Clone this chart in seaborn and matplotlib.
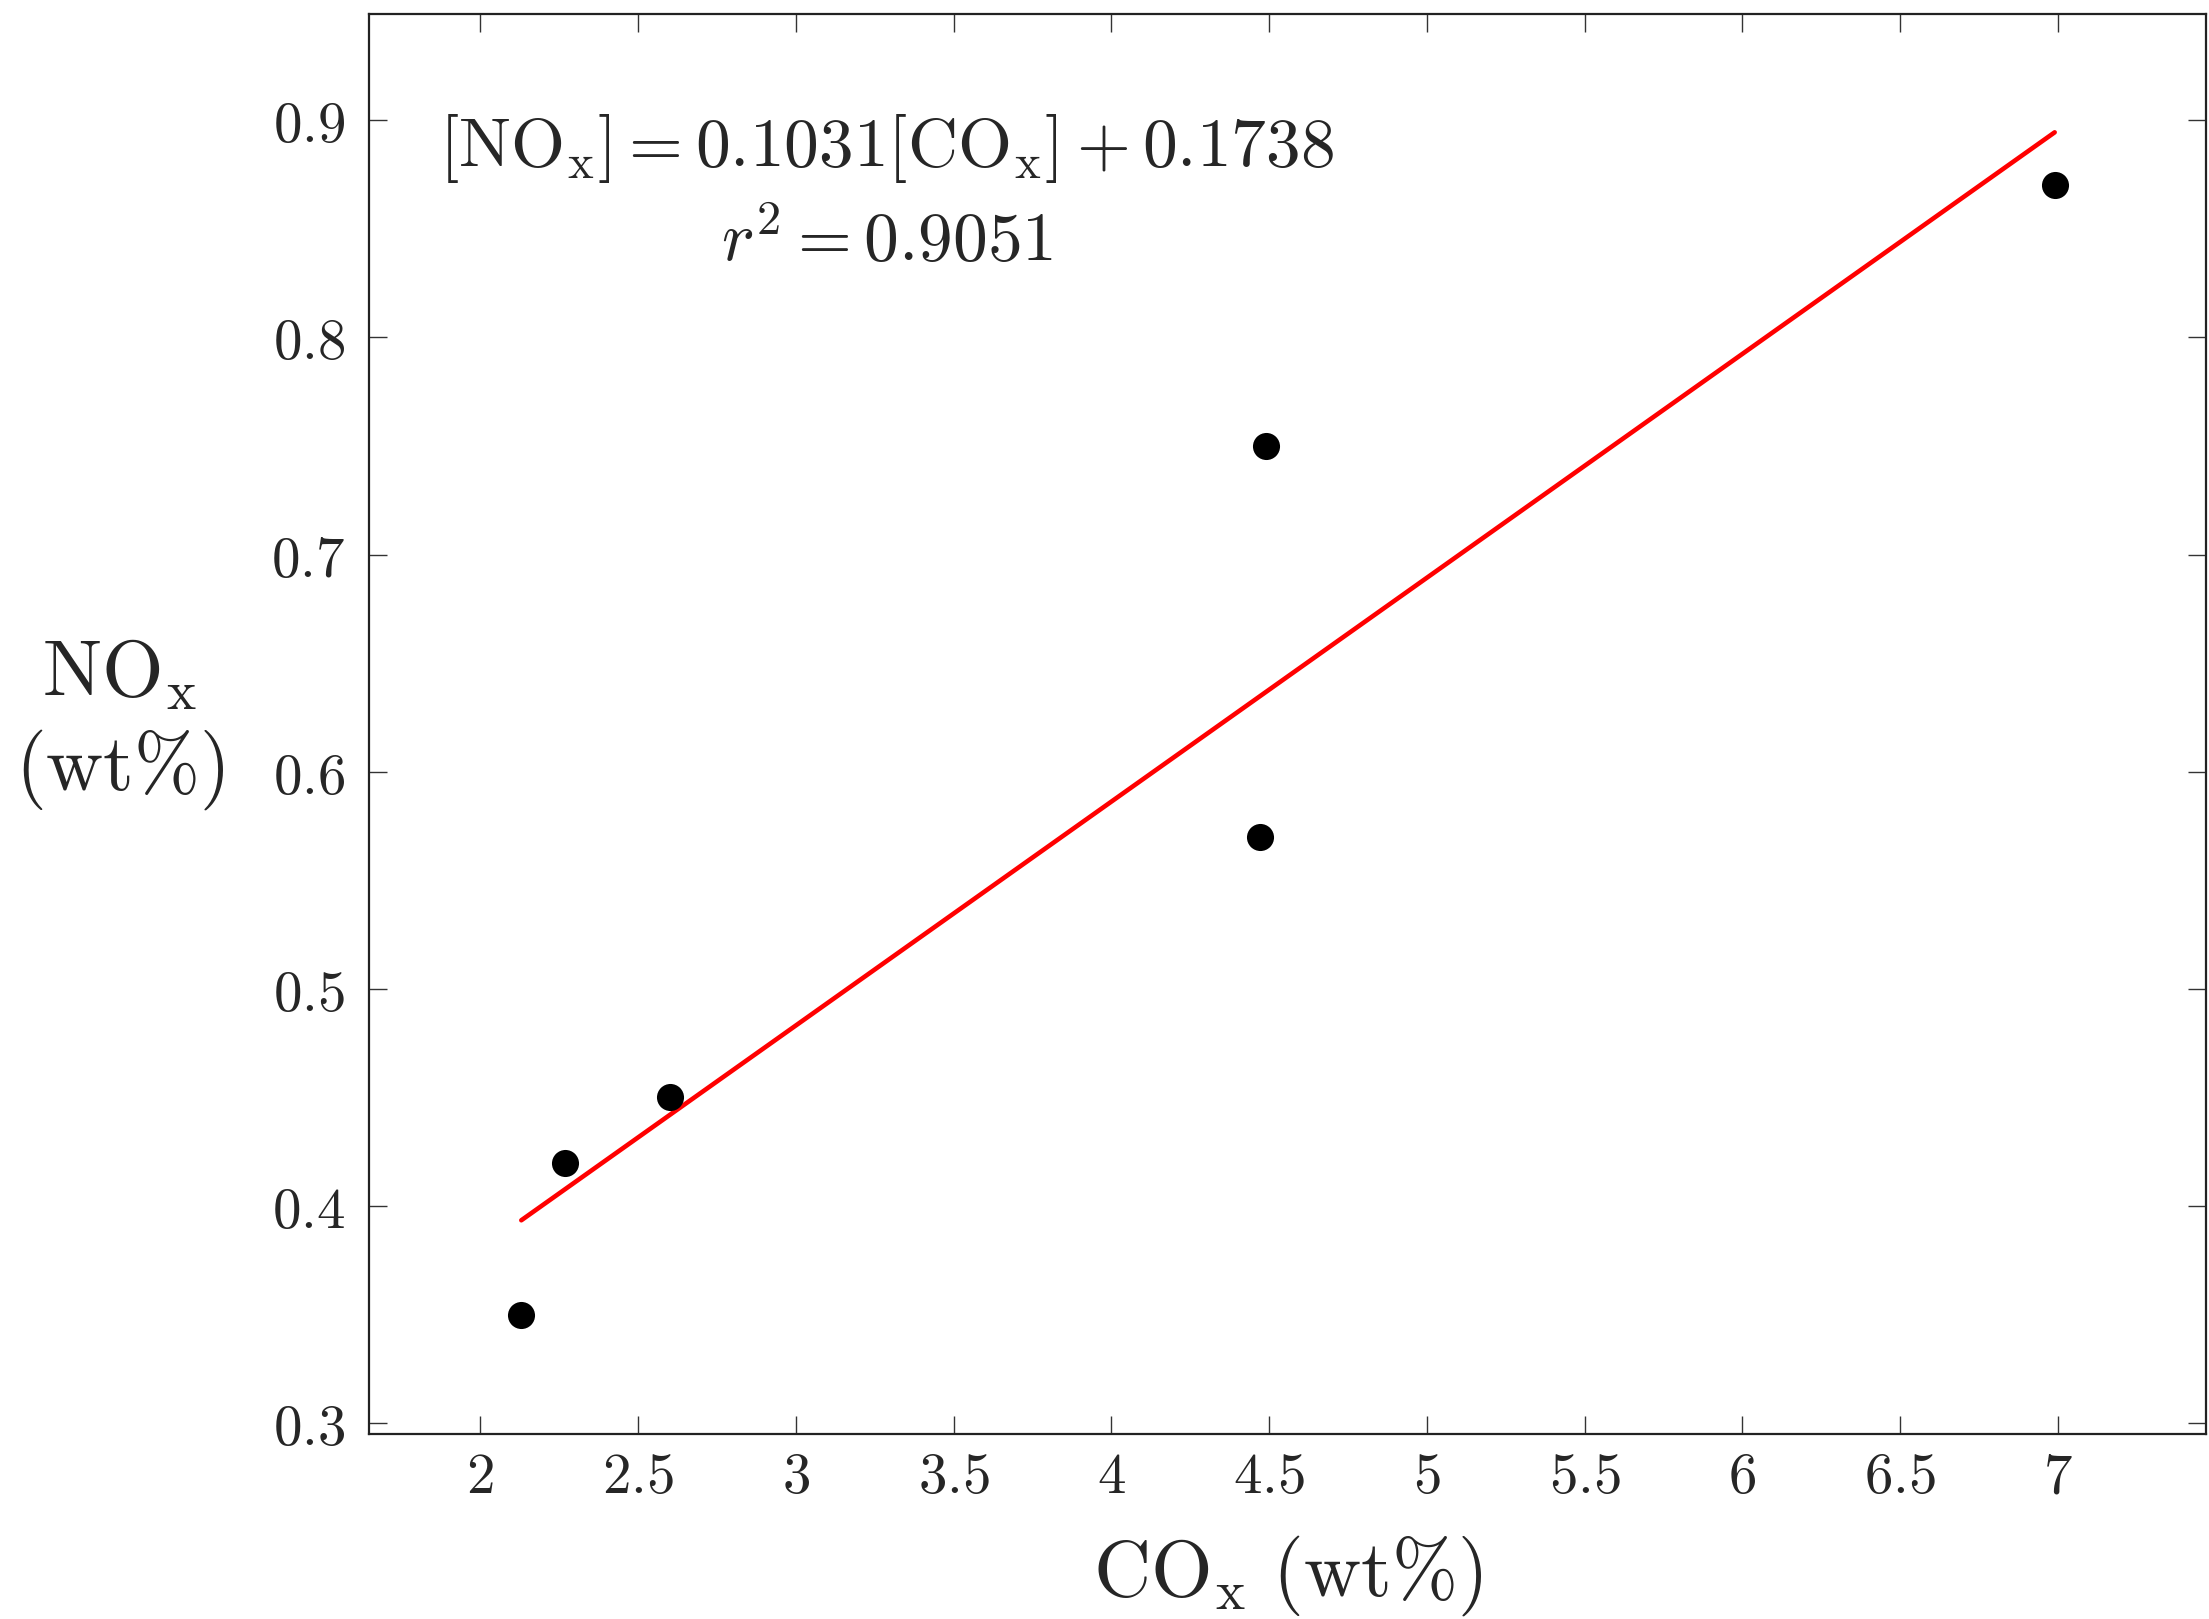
import matplotlib
matplotlib.use("Agg")
import matplotlib.pyplot as plt
import seaborn as sns
import numpy as np
import pandas as pd
from matplotlib.ticker import FixedLocator, FixedFormatter

# ---- data ----
co_x = [2.13, 2.27, 2.60, 4.47, 4.49, 6.99]
no_x = [0.35, 0.42, 0.45, 0.57, 0.75, 0.87]
fit_slope = 0.1031
fit_intercept = 0.1738
r_squared = 0.9051
x_ticks = [2, 2.5, 3, 3.5, 4, 4.5, 5, 5.5, 6, 6.5, 7]
x_tick_labels = ["2", "2.5", "3", "3.5", "4", "4.5", "5", "5.5", "6", "6.5", "7"]
y_ticks = [0.3, 0.4, 0.5, 0.6, 0.7, 0.8, 0.9]
y_tick_labels = ["0.3", "0.4", "0.5", "0.6", "0.7", "0.8", "0.9"]

sns.set_theme(style="ticks")
plt.rcParams["mathtext.fontset"] = "cm"
plt.rcParams["font.family"] = ["DejaVu Serif"]

df = pd.DataFrame({"CO": co_x, "NO": no_x})
fit_x = [min(co_x), max(co_x)]
fit_df = pd.DataFrame({"CO": fit_x,
                       "NO": [fit_slope * v + fit_intercept for v in fit_x]})

fig = plt.figure(figsize=(22.09, 16.19), dpi=100)
ax = fig.add_axes([0.167, 0.1143, 0.8317, 0.8771])

sns.lineplot(data=fit_df, x="CO", y="NO", ax=ax, color="#ff0000", linewidth=3.3)
sns.scatterplot(data=df, x="CO", y="NO", ax=ax, color="black", s=380,
                edgecolor="black", linewidth=0, zorder=3)

ax.set_xlim(1.647, 7.47)
ax.set_ylim(0.295, 0.949)

ax.xaxis.set_major_locator(FixedLocator(x_ticks))
ax.xaxis.set_major_formatter(FixedFormatter([f"${t}$" for t in x_tick_labels]))
ax.yaxis.set_major_locator(FixedLocator(y_ticks))
ax.yaxis.set_major_formatter(FixedFormatter([f"${t}$" for t in y_tick_labels]))

ax.tick_params(axis="both", which="major", direction="in", length=13, width=1.0,
               color="#333333", top=True, right=True, labelsize=41)
ax.tick_params(axis="x", pad=11)
ax.tick_params(axis="y", pad=17)

for sp in ax.spines.values():
    sp.set_visible(True)
    sp.set_linewidth(1.6)
    sp.set_color("#222222")

ax.set_xlabel(r"$\mathrm{CO_x}\ (\mathrm{wt\%})$", fontsize=57)
ax.xaxis.set_label_coords(0.5, -0.07)
ax.set_ylabel("$\\mathrm{NO_x}$\n$(\\mathrm{wt\\%})$", fontsize=57, rotation=0,
              ha="center", va="center", linespacing=1.25)
ax.yaxis.set_label_coords(-0.1355, 0.5)

ax.text(0.282, 0.893, r"$[\mathrm{NO_x}] = 0.1031[\mathrm{CO_x}] + 0.1738$",
        transform=ax.transAxes, ha="center", va="baseline", fontsize=50)
ax.text(0.282, 0.826, r"$r^2 = 0.9051$",
        transform=ax.transAxes, ha="center", va="baseline", fontsize=50)

fig.savefig("out.png", dpi=100, facecolor="white")
